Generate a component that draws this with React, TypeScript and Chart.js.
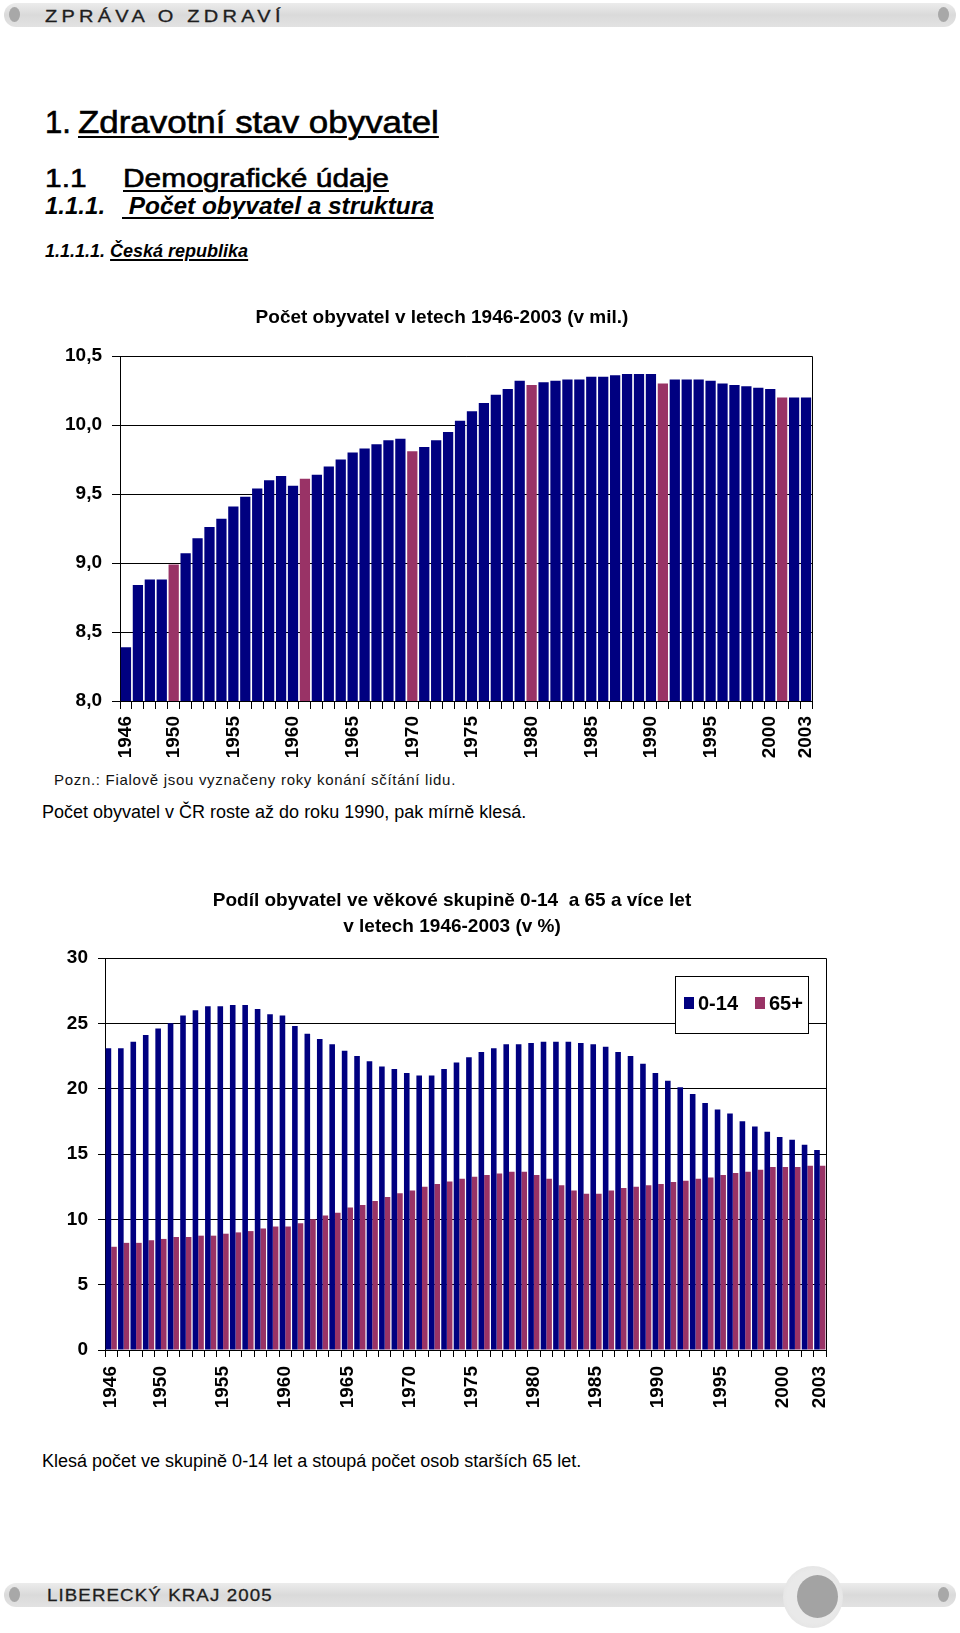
import React, { useEffect, useRef } from 'react';
import { Chart, registerables } from 'chart.js';

Chart.register(...registerables);

const FONT = "'Liberation Sans', Arial, Helvetica, sans-serif";
const NAVY = '#000080';
const PURPLE = '#993366';

const years = [
  1946, 1947, 1948, 1949, 1950, 1951, 1952, 1953, 1954, 1955,
  1956, 1957, 1958, 1959, 1960, 1961, 1962, 1963, 1964, 1965,
  1966, 1967, 1968, 1969, 1970, 1971, 1972, 1973, 1974, 1975,
  1976, 1977, 1978, 1979, 1980, 1981, 1982, 1983, 1984, 1985,
  1986, 1987, 1988, 1989, 1990, 1991, 1992, 1993, 1994, 1995,
  1996, 1997, 1998, 1999, 2000, 2001, 2002, 2003,
];
const censusYears = [1950, 1961, 1970, 1980, 1991, 2001];
const labeledYears = [1946, 1950, 1955, 1960, 1965, 1970, 1975, 1980, 1985, 1990, 1995, 2000, 2003];

// Počet obyvatel (mil.)
const populationMillions = [
  8.39, 8.84, 8.88, 8.88, 8.99, 9.07, 9.18, 9.26, 9.32, 9.41,
  9.48, 9.54, 9.60, 9.63, 9.56, 9.61, 9.64, 9.70, 9.75, 9.80,
  9.83, 9.86, 9.89, 9.90, 9.81, 9.84, 9.89, 9.95, 10.03, 10.10,
  10.16, 10.22, 10.26, 10.32, 10.29, 10.31, 10.32, 10.33, 10.33, 10.35,
  10.35, 10.36, 10.37, 10.37, 10.37, 10.30, 10.33, 10.33, 10.33, 10.32,
  10.30, 10.29, 10.28, 10.27, 10.26, 10.20, 10.20, 10.20,
];

// Podíl 0-14 (%)
const share0to14 = [
  23.1, 23.1, 23.6, 24.1, 24.6, 25.0, 25.6, 26.0, 26.3, 26.3,
  26.4, 26.4, 26.1, 25.7, 25.6, 24.8, 24.2, 23.8, 23.4, 22.9,
  22.5, 22.1, 21.7, 21.5, 21.2, 21.0, 21.0, 21.5, 22.0, 22.4,
  22.8, 23.1, 23.4, 23.4, 23.5, 23.6, 23.6, 23.6, 23.5, 23.4,
  23.2, 22.8, 22.5, 21.9, 21.2, 20.6, 20.1, 19.6, 18.9, 18.4,
  18.1, 17.5, 17.1, 16.7, 16.3, 16.1, 15.7, 15.3,
];

// Podíl 65+ (%)
const share65plus = [
  7.9, 8.2, 8.2, 8.4, 8.5, 8.65, 8.65, 8.75, 8.75, 8.9,
  9.0, 9.1, 9.3, 9.45, 9.45, 9.7, 10.0, 10.3, 10.5, 10.9,
  11.1, 11.4, 11.7, 12.0, 12.2, 12.5, 12.7, 12.9, 13.1, 13.25,
  13.4, 13.5, 13.65, 13.65, 13.4, 13.1, 12.6, 12.2, 11.95, 11.95,
  12.2, 12.4, 12.5, 12.6, 12.7, 12.85, 12.95, 13.1, 13.2, 13.4,
  13.55, 13.65, 13.8, 14.0, 14.0, 14.0, 14.1, 14.1,
];

const chart1Title = ['Počet obyvatel v letech 1946-2003 (v mil.)'];
const chart2Title = ['Podíl obyvatel ve věkové skupině 0-14  a 65 a více let', 'v letech 1946-2003 (v %)'];
const seriesNames = ['0-14', '65+'];

const axisFont = { family: FONT, size: 19, weight: 'bold' as const };

const yearTick = (_v: any, index: number) =>
  labeledYears.includes(years[index]) ? String(years[index]) : '';

const framePlugin = {
  id: 'frame',
  afterDatasetsDraw(chart: any) {
    const { ctx, chartArea: a } = chart;
    const al = (p: number) => Math.round(p - 0.5) + 0.5;
    ctx.save();
    ctx.strokeStyle = '#000';
    ctx.lineWidth = 1;
    ctx.beginPath();
    ctx.moveTo(al(a.left), al(a.top));
    ctx.lineTo(al(a.right), al(a.top));
    ctx.lineTo(al(a.right), al(a.bottom));
    ctx.stroke();
    ctx.restore();
  },
};

const pageTitlePlugin = {
  id: 'pageTitle',
  afterDraw(chart: any, _args: any, opts: any) {
    const { ctx } = chart;
    ctx.save();
    ctx.font = `bold 19px ${FONT}`;
    ctx.fillStyle = '#000';
    ctx.textAlign = 'center';
    ctx.textBaseline = 'middle';
    opts.lines.forEach((line: string, i: number) => {
      ctx.fillText(line, opts.x, opts.y + i * opts.lineHeight);
    });
    ctx.restore();
  },
};

const legendBoxPlugin = {
  id: 'legendBox',
  afterDraw(chart: any) {
    const { ctx, chartArea: a } = chart;
    const x = Math.round(a.right - 151);
    const y = Math.round(a.top + 18);
    const w = 133;
    const h = 57;
    ctx.save();
    ctx.fillStyle = '#fff';
    ctx.fillRect(x, y, w, h);
    ctx.strokeStyle = '#000';
    ctx.lineWidth = 1;
    ctx.strokeRect(x + 0.5, y + 0.5, w, h);
    ctx.font = `bold 20px ${FONT}`;
    ctx.textBaseline = 'middle';
    const cy = y + 27;
    let cx = x + 9;
    chart.data.datasets.forEach((ds: any) => {
      ctx.fillStyle = ds.backgroundColor;
      ctx.fillRect(cx, cy - 6, 10, 12);
      ctx.fillStyle = '#000';
      ctx.fillText(ds.label, cx + 14, cy + 1);
      cx += 71;
    });
    ctx.restore();
  },
};

function useChart(ref: React.RefObject<HTMLCanvasElement>, make: () => any) {
  useEffect(() => {
    if (!ref.current) return;
    const chart = new Chart(ref.current, make());
    return () => chart.destroy();
  }, []);
}

const fitX = (h: number) => (s: any) => {
  s.height = h;
  s.paddingLeft = 0;
  s.paddingRight = 0;
};

function PopulationChart() {
  const ref = useRef<HTMLCanvasElement>(null);
  useChart(ref, () => ({
    type: 'bar',
    data: {
      labels: years.map(String),
      datasets: [
        {
          data: populationMillions,
          backgroundColor: years.map((y) => (censusYears.includes(y) ? PURPLE : NAVY)),
          borderWidth: 0,
          barPercentage: 0.86,
          categoryPercentage: 1,
        },
      ],
    },
    options: {
      responsive: false,
      animation: false,
      layout: { padding: { left: 0, right: 18, top: 66, bottom: 0 } },
      plugins: {
        legend: { display: false },
        tooltip: { enabled: false },
        title: { display: false },
        pageTitle: { lines: chart1Title, x: 392, y: 28, lineHeight: 26 },
      },
      scales: {
        x: {
          grid: { display: true, drawOnChartArea: false, drawTicks: true, tickLength: 8, color: '#000', lineWidth: 1, offset: true },
          border: { display: true, color: '#000', width: 1 },
          ticks: { autoSkip: false, maxRotation: 90, minRotation: 90, padding: 7, color: '#000', font: axisFont, callback: yearTick },
          afterFit: fitX(69),
        },
        y: {
          min: 8,
          max: 10.5,
          ticks: {
            stepSize: 0.5,
            padding: 10,
            color: '#000',
            font: axisFont,
            callback: (v: any) => Number(v).toFixed(1).replace('.', ','),
          },
          grid: { color: '#000', lineWidth: 1, tickLength: 8 },
          border: { color: '#000', width: 1 },
          afterFit: (s: any) => { s.width = 70; },
        },
      },
    },
    plugins: [framePlugin, pageTitlePlugin],
  }));
  return (
    <canvas ref={ref} width={780} height={480}
      style={{ position: 'absolute', left: 50, top: 290, width: 780, height: 480 }} />
  );
}

function AgeChart() {
  const ref = useRef<HTMLCanvasElement>(null);
  useChart(ref, () => ({
    type: 'bar',
    data: {
      labels: years.map(String),
      datasets: [
        { label: seriesNames[0], data: share0to14, backgroundColor: NAVY, borderWidth: 0, barPercentage: 1, categoryPercentage: 0.9 },
        { label: seriesNames[1], data: share65plus, backgroundColor: PURPLE, borderWidth: 0, barPercentage: 1, categoryPercentage: 0.9 },
      ],
    },
    options: {
      responsive: false,
      animation: false,
      layout: { padding: { left: 0, right: 14, top: 78, bottom: 0 } },
      plugins: {
        legend: { display: false },
        tooltip: { enabled: false },
        title: { display: false },
        pageTitle: { lines: chart2Title, x: 412, y: 21, lineHeight: 26 },
      },
      scales: {
        x: {
          grid: { display: true, drawOnChartArea: false, drawTicks: true, tickLength: 7, color: '#000', lineWidth: 1, offset: true },
          border: { display: true, color: '#000', width: 1 },
          ticks: { autoSkip: false, maxRotation: 90, minRotation: 90, padding: 9, color: '#000', font: axisFont, callback: yearTick },
          afterFit: fitX(70),
        },
        y: {
          min: 0,
          max: 30,
          ticks: { stepSize: 5, padding: 10, color: '#000', font: axisFont },
          grid: { color: '#000', lineWidth: 1, tickLength: 7 },
          border: { color: '#000', width: 1 },
          afterFit: (s: any) => { s.width = 65; },
        },
      },
    },
    plugins: [framePlugin, legendBoxPlugin, pageTitlePlugin],
  }));
  return (
    <canvas ref={ref} width={800} height={540}
      style={{ position: 'absolute', left: 40, top: 880, width: 800, height: 540 }} />
  );
}

const abs = (left: number, top: number, extra: React.CSSProperties = {}): React.CSSProperties => ({
  position: 'absolute', left, top, whiteSpace: 'pre', margin: 0, ...extra,
});

const ul: React.CSSProperties = { textDecoration: 'underline', textDecorationThickness: '2px', textUnderlineOffset: '3px' };
const heavy: React.CSSProperties = { WebkitTextStroke: '0.6px #000' } as React.CSSProperties;

function Bar({ top }: { top: number }) {
  return (
    <>
      <div style={abs(4, top, { width: 952, height: 24, borderRadius: 12, background: 'linear-gradient(to bottom, #ececec, #dadada 50%, #e2e2e2)' })} />
      <div style={abs(9, top + 4, { width: 11, height: 15, borderRadius: '50%', background: '#a8a8a8' })} />
      <div style={abs(938, top + 4, { width: 11, height: 15, borderRadius: '50%', background: '#a8a8a8' })} />
    </>
  );
}

export default function App() {
  return (
    <div style={{ position: 'absolute', left: 0, top: 0, width: 960, height: 1633, background: '#fff', fontFamily: FONT, color: '#000', overflow: 'hidden' }}>
      <Bar top={3} />
      <div style={abs(45, 9, { fontSize: 16, lineHeight: '16px', letterSpacing: 3.4, color: '#1e1e1e', transform: 'scaleX(1.25)', transformOrigin: 'left top', WebkitTextStroke: '0.3px #1e1e1e' } as React.CSSProperties)}>ZPRÁVA O ZDRAVÍ</div>

      <div style={abs(45, 107, { fontSize: 31, lineHeight: '31px', ...heavy })}>1.</div>
      <div style={abs(78, 107, { fontSize: 31, lineHeight: '31px', transform: 'scaleX(1.126)', transformOrigin: 'left top', ...heavy })}>
        <span style={ul}>Zdravotní stav obyvatel</span>
      </div>
      <div style={abs(45, 165, { fontSize: 26, lineHeight: '26px', transform: 'scaleX(1.15)', transformOrigin: 'left top', ...heavy })}>1.1</div>
      <div style={abs(123, 165, { fontSize: 26, lineHeight: '26px', transform: 'scaleX(1.15)', transformOrigin: 'left top', ...heavy })}>
        <span style={ul}>Demografické údaje</span>
      </div>
      <div style={abs(45, 194, { fontSize: 24, lineHeight: '24px', fontWeight: 'bold', fontStyle: 'italic' })}>1.1.1.</div>
      <div style={abs(122, 194, { fontSize: 24.4, lineHeight: '24px', fontWeight: 'bold', fontStyle: 'italic' })}>
        <span style={ul}> Počet obyvatel a struktura</span>
      </div>
      <div style={abs(45, 242, { fontSize: 18, lineHeight: '18px', fontWeight: 'bold', fontStyle: 'italic' })}>
        1.1.1.1. <span style={{ ...ul, textDecorationThickness: '1.5px', textUnderlineOffset: '2px' }}>Česká republika</span>
      </div>

      <PopulationChart />

      <div style={abs(54, 772, { fontSize: 15, lineHeight: '15px', letterSpacing: 0.7, color: '#111' })}>
        Pozn.: Fialově jsou vyznačeny roky konání sčítání lidu.
      </div>
      <div style={abs(42, 803, { fontSize: 18, lineHeight: '18px' })}>
        Počet obyvatel v ČR roste až do roku 1990, pak mírně klesá.
      </div>

      <AgeChart />

      <div style={abs(42, 1452, { fontSize: 18, lineHeight: '18px' })}>
        Klesá počet ve skupině 0-14 let a stoupá počet osob starších 65 let.
      </div>

      <Bar top={1583} />
      <div style={abs(783, 1566, { width: 60, height: 62, borderRadius: '50%', background: 'radial-gradient(circle, #e9e9e9 60%, #dedede 100%)' })} />
      <div style={abs(797, 1575, { width: 41, height: 43, borderRadius: '50%', background: '#a3a3a3' })} />
      <div style={abs(47, 1587, { fontSize: 17, lineHeight: '17px', letterSpacing: 1, color: '#1e1e1e', transform: 'scaleX(1.1)', transformOrigin: 'left top', WebkitTextStroke: '0.3px #1e1e1e' } as React.CSSProperties)}>LIBERECKÝ KRAJ 2005</div>
    </div>
  );
}
